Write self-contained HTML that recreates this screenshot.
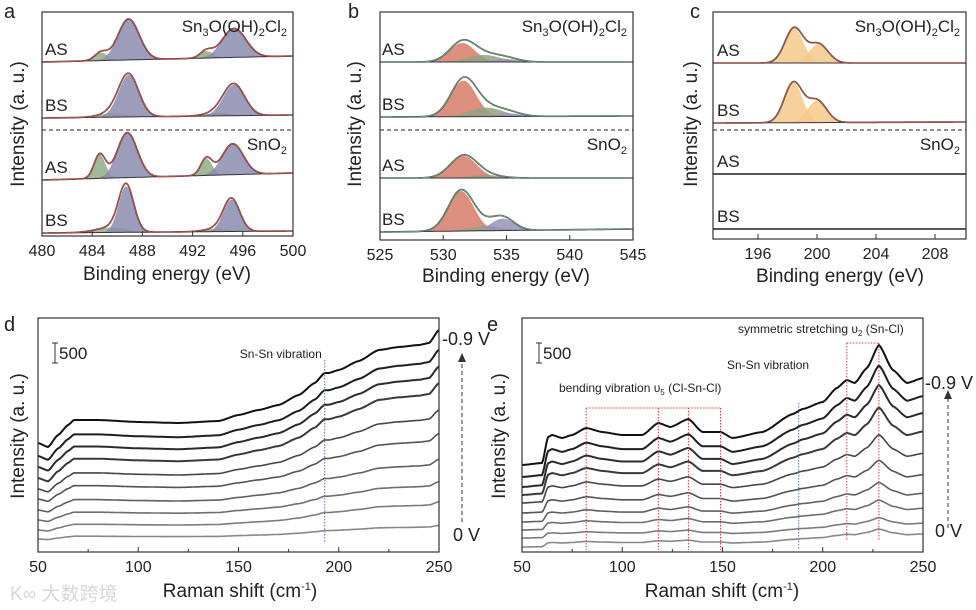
<!DOCTYPE html>
<html><head><meta charset="utf-8"><style>
html,body{margin:0;padding:0;background:#fff;}
svg{display:block;font-family:"Liberation Sans","Noto Sans CJK SC",sans-serif;}
</style></head><body>
<svg id="fig" width="976" height="610" viewBox="0 0 976 610" xmlns="http://www.w3.org/2000/svg"></svg>
<script>
// ---------- DATA ----------
// Panel a (Sn 3d)
const aTicks = [480,484,488,492,496,500];
const aBaseL = [174,118,56,3];
const aBaseR = [180,121,63,5];
const aPeaks = [
 [[484.7,8,0.5,1],[486.9,41,0.85,0],[493.1,7,0.5,1],[495.3,29,0.95,0]],
 [[485.6,4,1.0,1],[486.9,42,0.8,0],[494.0,3,1.0,1],[495.3,31,0.85,0]],
 [[484.6,24,0.45,1],[486.8,45,0.8,0],[493.1,17,0.45,1],[495.2,31,0.85,0]],
 [[485.5,5,1.2,1],[486.7,46,0.6,0],[494.0,3,1.0,1],[495.1,32,0.65,0]]
];
const aRowLabels = ["AS","BS","AS","BS"];
// Panel b (O 1s)
const bTicks = [525,530,535,540,545];
const bBaseL = [178,123,62,8];
const bBaseR = [178,124,62,11];
const bPeaks = [
 [[531.5,19,1.0,0],[533.2,7,1.3,1],[535.0,3,1.0,2]],
 [[531.6,36,1.0,0],[533.4,9,1.3,1],[535.2,3,1.0,2]],
 [[531.6,22,1.05,0],[533.3,3,1.2,1]],
 [[531.4,40,1.0,0],[533.3,5,1.2,1],[534.7,12,0.9,2]]
];
// Panel c (Cl 2p)
const cTicks = [196,200,204,208];
const cBaseL = [176,116,65,10];
const cBaseR = [176,117,65,10];
const cPeaks = [
 [[198.45,35,0.62,0],[200.1,19,0.65,0]],
 [[198.4,40,0.62,0],[200.0,22,0.65,0]],
 [],
 []
];
// Panel d (Raman)
const dTicks = [50,100,150,200,250];
const dShapeX = [50,55,60,65,68,80,100,120,140,150,160,170,180,188,193,195,200,210,220,230,240,245,250];
const dShapeH = [0,-4,8,18,23,23,21,20,22,28,33,38,48,60,70,70,73,82,93,96,98,100,113];
const dBase = [539,530,520,510,499,489,478,467,456,443];
const dScale = [0.12,0.25,0.34,0.45,0.58,0.70,0.84,0.89,0.94,1.0];
const dSnSn = 193;
// Panel e (Raman)
const eTicks = [50,100,150,200,250];
const eShapeX = [50,60,63,65,70,75,82,90,100,110,118,124,133,140,149,155,170,185,190,200,207,212,216,222,228,235,242,250];
const eShapeH = [0,2,28,30,27,30,37,33,30,30,42,38,46,33,33,27,33,51,56,63,77,85,82,97,120,95,82,87];
const eBase = [547,538,530,522,513,503,495,487,477,465];
const eScale = [0.15,0.17,0.25,0.33,0.44,0.57,0.73,0.85,0.93,1.0];
const eBendX = [82,118,133,149];
const eStretchX = [212,228];
const eSnSn = 188;

// ---------- HELPERS ----------
const NS="http://www.w3.org/2000/svg";
const svg=document.getElementById('fig');
function el(tag,attrs,parent){const e=document.createElementNS(NS,tag);for(const k in attrs)e.setAttribute(k,attrs[k]);(parent||svg).appendChild(e);return e;}
function txt(x,y,s,size,parent,anchor){const t=el('text',{x:x,y:y,'font-size':size,'text-anchor':anchor||'start',fill:'#222'},parent);t.textContent=s;return t;}
function lin(d0,d1,p0,p1){return v=>p0+(v-d0)*(p1-p0)/(d1-d0);}
function gauss(x,c,a,w){return a*Math.exp(-(x-c)*(x-c)/(2*w*w));}
function interp(xs,hs,x){for(let i=0;i<xs.length-1;i++){if(x>=xs[i]&&x<=xs[i+1]){const t=(x-xs[i])/(xs[i+1]-xs[i]);const s=t*t*(3-2*t);return hs[i]+(hs[i+1]-hs[i])*(0.5*t+0.5*s);}}return hs[hs.length-1];}

function frame(g,x0,y0,x1,y1,ticks,xs,name){
  const r=el('rect',{x:x0,y:y0,width:x1-x0,height:y1-y0,fill:'none',stroke:'#333','stroke-width':1.2},g);
  
  
  ticks.forEach(t=>{const x=xs(t);
    const l=el('line',{x1:x,y1:y1,x2:x,y2:y1-5,stroke:'#333','stroke-width':1},g);
    
    
    const tl=txt(x,y1+20,String(t),16,g,'middle');
    
    
  });
}
function ytitle(g,x,cy){const t=el('text',{x:0,y:0,'font-size':19,'text-anchor':'middle',fill:'#222',transform:`translate(${x},${cy}) rotate(-90)`},g);t.textContent='Intensity (a. u.)';}
function xtitle(g,cx,y,html){const t=el('text',{x:cx,y:y,'font-size':19,'text-anchor':'middle',fill:'#222'},g);t.innerHTML=html;}
function plabel(x,y,s){const t=txt(x,y,s,20,svg);}

function drawXPS(name,x0,x1,d0,d1,bottom,ticks,baseL,baseR,peaks,colors,rowLabelX){
  const g=el('g',{});
  const xs=lin(d0,d1,x0,x1);const ys=v=>bottom-v;
  for(let r=0;r<baseL.length;r++){
    const base=x=>baseL[r]+(baseR[r]-baseL[r])*(x-d0)/(d1-d0);
    const N=300;const xsArr=[];for(let i=0;i<=N;i++)xsArr.push(d0+(d1-d0)*i/N);
    peaks[r].forEach(p=>{
      let d=`M${xs(d0)},${ys(base(d0))}`;
      xsArr.forEach(x=>{d+=`L${xs(x).toFixed(1)},${ys(base(x)+gauss(x,p[0],p[1],p[2])).toFixed(1)}`;});
      xsArr.slice().reverse().forEach(x=>{d+=`L${xs(x).toFixed(1)},${ys(base(x)).toFixed(1)}`;});
      const a=el('path',{d:d+'Z',fill:colors[p[3]],'fill-opacity':0.85,stroke:'none'},g);
      
      
    });
    let bd='';xsArr.forEach((x,i)=>{bd+=(i?'L':'M')+xs(x).toFixed(1)+','+ys(base(x)).toFixed(1);});
    const bl=el('path',{d:bd,fill:'none',stroke:'#3a3040','stroke-width':1},g);
    
    
    let ed='';xsArr.forEach((x,i)=>{let v=base(x);peaks[r].forEach(p=>v+=gauss(x,p[0],p[1],p[2]));ed+=(i?'L':'M')+xs(x).toFixed(1)+','+ys(v).toFixed(1);});
    const dl=el('path',{d:ed,fill:'none',stroke:'#222','stroke-width':1.6},g);
    
    
    if(peaks[r].length){const en=el('path',{d:ed,fill:'none',stroke:colors[3],'stroke-width':1.1},g);
      
      }
    const lab=txt(rowLabelX,ys(baseL[r])-7,aRowLabels[r],17,g);
    
    
  }
  const dash=el('line',{x1:x0,y1:130,x2:x1,y2:130,stroke:'#222','stroke-width':1,'stroke-dasharray':'4,3'},g);
  
  
  const t1=el('text',{x:x1-6,y:32,'font-size':17,'text-anchor':'end',fill:'#222'},g);
  t1.innerHTML='Sn<tspan font-size="11" dy="4">3</tspan><tspan dy="-4">O(OH)</tspan><tspan font-size="11" dy="4">2</tspan><tspan dy="-4">Cl</tspan><tspan font-size="11" dy="4">2</tspan>';
  
  
  const t2=el('text',{x:x1-6,y:150,'font-size':17,'text-anchor':'end',fill:'#222'},g);
  t2.innerHTML='SnO<tspan font-size="11" dy="4">2</tspan>';
  
  
  frame(g,x0,12,x1,bottom,ticks,xs,name);
  return g;
}

// ---------- PANELS a,b,c ----------
plabel(4,18,'a');plabel(348,18,'b');plabel(690,18,'c');
const ga=drawXPS('a',42,293,480,500,236,aTicks,aBaseL,aBaseR,aPeaks,['#8b8cae','#8fae86','#000','#c0504d'],45);
ytitle(ga,24,124);xtitle(ga,167,280,'Binding energy (eV)');
const gb=drawXPS('b',380,633,525,545,240,bTicks,bBaseL,bBaseR,bPeaks,['#d77b68','#8fa580','#9493b8','#6a9a78'],382);
ytitle(gb,361,124);xtitle(gb,506,282,'Binding energy (eV)');
const gc=drawXPS('c',713,966,192.95,210.1,239,cTicks,cBaseL,cBaseR,cPeaks,['#f4c98a','#f4c98a','#f4c98a','#b05a4a'],717);
ytitle(gc,697,124);xtitle(gc,840,282,'Binding energy (eV)');

// ---------- RAMAN ----------
function drawRaman(name,x0,x1,top,bottom,ticks,shapeX,shapeH,base,scale){
  const g=el('g',{});
  const xs=lin(50,250,x0,x1);
  const n=base.length;
  for(let i=0;i<n;i++){
    const c=Math.round(136-(136-17)*i/(n-1));
    let d='';for(let k=0;k<=400;k++){const x=50+200*k/400;const y=base[i]-scale[i]*interp(shapeX,shapeH,x);d+=(k?'L':'M')+xs(x).toFixed(1)+','+y.toFixed(1);}
    const p=el('path',{d:d,fill:'none',stroke:`rgb(${c},${c},${c})`,'stroke-width':i>n-5?2:1.6,'stroke-linejoin':'round'},g);
    
    
  }
  frame(g,x0,top,x1,bottom,ticks,xs,name);
  // minor ticks
  for(let t=75;t<250;t+=50){const l=el('line',{x1:xs(t),y1:bottom,x2:xs(t),y2:bottom-3,stroke:'#333'},g);}
  // scale bar
  const sb=el('path',{d:`M${x0+17},${top+25}v20M${x0+14},${top+25}h6M${x0+14},${top+45}h6`,stroke:'#333',fill:'none'},g);
  
  const sbt=txt(x0+21,top+41,'500',17,g);
  return {g,xs};
}
plabel(4,331,'d');plabel(487,331,'e');
const D=drawRaman('d',38,439,318,552,dTicks,dShapeX,dShapeH,dBase,dScale);
{const x=D.xs(dSnSn);const l=el('line',{x1:x,y1:360,x2:x,y2:542,stroke:'#6070b0','stroke-width':1,'stroke-dasharray':'1.5,1.5'},D.g);
 const t=txt(x-85,358,'Sn-Sn vibration',12,D.g);}
ytitle(D.g,24,436);xtitle(D.g,240,597,'Raman shift (cm<tspan font-size="11" dy="-7">-1</tspan><tspan dy="7">)</tspan>');
{const t=txt(442,345,'-0.9 V',18,D.g);
 const t2=txt(453,541,'0 V',18,D.g);
 const a=el('path',{d:'M462,522V356',stroke:'#333','stroke-dasharray':'4,3',fill:'none'},D.g);
 const ah=el('path',{d:'M458,362L462,353L466,362Z',fill:'#333'},D.g);}

const E=drawRaman('e',522,923,318,552,eTicks,eShapeX,eShapeH,eBase,eScale);
{const red='#d04040';
 let d=`M${E.xs(eBendX[0])},408H${E.xs(eBendX[eBendX.length-1])}`;
 eBendX.forEach(v=>{d+=`M${E.xs(v)},408V550`;});
 const p=el('path',{d:d,stroke:red,fill:'none','stroke-dasharray':'1.5,1.5'},E.g);
 let d2=`M${E.xs(eStretchX[0])},343H${E.xs(eStretchX[1])}`;eStretchX.forEach(v=>{d2+=`M${E.xs(v)},343V540`;});
 const p2=el('path',{d:d2,stroke:red,fill:'none','stroke-dasharray':'1.5,1.5'},E.g);
 const x=E.xs(eSnSn);const l=el('line',{x1:x,y1:403,x2:x,y2:550,stroke:'#6070b0','stroke-dasharray':'1.5,1.5'},E.g);
 const t=txt(727,369,'Sn-Sn vibration',12,E.g);
 const t3=el('text',{x:559,y:392,'font-size':12,fill:'#222'},E.g);t3.innerHTML='bending vibration υ<tspan font-size="8" dy="3">5</tspan><tspan dy="-3"> (Cl-Sn-Cl)</tspan>';
 const t4=el('text',{x:738,y:333,'font-size':12,fill:'#222'},E.g);t4.innerHTML='symmetric stretching υ<tspan font-size="8" dy="3">2</tspan><tspan dy="-3"> (Sn-Cl)</tspan>';}
ytitle(E.g,505,436);xtitle(E.g,722,597,'Raman shift (cm<tspan font-size="11" dy="-7">-1</tspan><tspan dy="7">)</tspan>');
{const t=txt(925,389,'-0.9 V',18,E.g);
 const t2=txt(935,537,'0 V',18,E.g);
 const a=el('path',{d:'M948,528V394',stroke:'#333','stroke-dasharray':'4,3',fill:'none'},E.g);
 const ah=el('path',{d:'M944,399L948,390L952,399Z',fill:'#333'},E.g);}

// watermark
{const w=el('text',{x:10,y:600,'font-size':19,fill:'#d8d8d8'});w.textContent='K∞ 大数跨境';}
</script>
</body></html>
